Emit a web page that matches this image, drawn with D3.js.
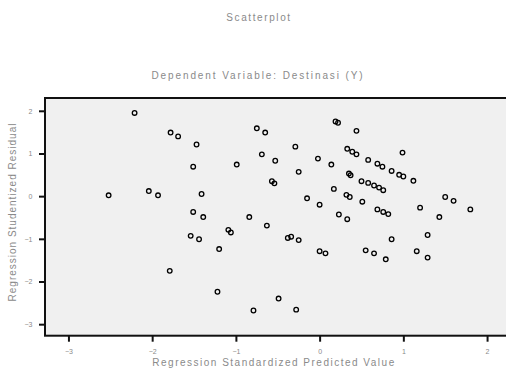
<!DOCTYPE html>
<html>
<head>
<meta charset="utf-8">
<script src="https://cdn.jsdelivr.net/npm/d3@7/dist/d3.min.js"></script>
<style>
  html, body { margin: 0; padding: 0; background: #fff; }
  svg text { font-family: "Liberation Sans", Arial, sans-serif; fill: #8a8a8a; }
</style>
</head>
<body>
<div id="chart"></div>
<script>
// regression standardized predicted value (x) and studentized residual (y)
const predicted = [
  -2.21, -1.78, -1.69, -1.47, -1.51, -0.99, -2.52, -2.04, -1.93, -1.41,
  -1.51, -1.39, -0.84, -1.09, -1.06, -1.54, -1.44, -1.20, -1.79, -1.22,
  -0.79, -0.75, -0.65, -0.69, -0.53, -0.29, -0.25, -0.57, -0.54, -0.02,
  0.14, 0.19, 0.22, 0.44, 0.33, 0.39, 0.44, 0.58, 0.69, 0.75,
  0.86, 0.95, 1.00, 1.12, 0.99, 0.35, 0.37, 0.50, 0.58, 0.65,
  0.71, 0.76, 0.17, 0.32, 0.36, 0.51, -0.15, 0.00, 0.69, 0.76,
  0.82, 1.20, 1.43, 1.50, 1.60, 1.80, 0.23, 0.33, -0.63, -0.38,
  -0.34, -0.25, 0.00, 0.07, 0.55, 0.65, 0.79, 0.86, 1.16, 1.29,
  1.29, -0.49, -0.28
];
const residual = [
  1.95, 1.49, 1.40, 1.21, 0.69, 0.74, 0.02, 0.12, 0.02, 0.05,
  -0.37, -0.49, -0.49, -0.79, -0.85, -0.93, -1.01, -1.24, -1.75, -2.24,
  -2.68, 1.59, 1.49, 0.98, 0.83, 1.16, 0.57, 0.35, 0.30, 0.88,
  0.74, 1.75, 1.72, 1.53, 1.11, 1.04, 0.98, 0.85, 0.76, 0.69,
  0.59, 0.50, 0.46, 0.36, 1.02, 0.53, 0.49, 0.35, 0.31, 0.25,
  0.20, 0.14, 0.17, 0.03, -0.02, -0.13, -0.05, -0.20, -0.31, -0.37,
  -0.42, -0.27, -0.49, -0.02, -0.11, -0.31, -0.43, -0.54, -0.69, -0.98,
  -0.95, -1.03, -1.29, -1.34, -1.27, -1.34, -1.48, -1.01, -1.29, -0.91,
  -1.44, -2.40, -2.66
];
const xTicks = [-3, -2, -1, 0, 1, 2];
const yTicks = [-3, -2, -1, 0, 1, 2];

const width = 506, height = 369;

const svg = d3.select("#chart")
  .append("svg")
  .attr("width", width)
  .attr("height", height);

const x = d3.scaleLinear().domain([-3.28, 2.25]).range([45, 508]);
const y = d3.scaleLinear().domain([-3.27, 2.3]).range([335.7, 98]);

// titles
svg.append("text")
  .attr("x", 259).attr("y", 21)
  .attr("text-anchor", "middle")
  .attr("font-size", "10px")
  .attr("letter-spacing", "1.6px")
  .text("Scatterplot");

svg.append("text")
  .attr("x", 258).attr("y", 79)
  .attr("text-anchor", "middle")
  .attr("font-size", "10px")
  .attr("letter-spacing", "1.9px")
  .text("Dependent Variable: Destinasi (Y)");

// plot frame
svg.append("rect")
  .attr("x", x.range()[0]).attr("y", y.range()[1])
  .attr("width", x.range()[1] - x.range()[0])
  .attr("height", y.range()[0] - y.range()[1])
  .attr("fill", "#f0f0f0")
  .attr("stroke", "#111")
  .attr("stroke-width", 2);

// axes
const xAxis = svg.append("g")
  .attr("transform", `translate(0,${y.range()[0]})`)
  .call(d3.axisBottom(x).tickValues(xTicks).tickSize(6).tickFormat(d3.format("d")));
xAxis.select(".domain").remove();
xAxis.selectAll("line").attr("stroke", "#111").attr("stroke-width", 2);
xAxis.selectAll("text").attr("fill", "#8a8a8a").attr("font-size", "7px").attr("dy", "1.4em");

const yAxis = svg.append("g")
  .attr("transform", `translate(${x.range()[0]},0)`)
  .call(d3.axisLeft(y).tickValues(yTicks).tickSize(6).tickFormat(d3.format("d")));
yAxis.select(".domain").remove();
yAxis.selectAll("line").attr("stroke", "#111").attr("stroke-width", 2);
yAxis.selectAll("text").attr("fill", "#8a8a8a").attr("font-size", "7px").attr("dx", "-0.5em");

// axis titles
svg.append("text")
  .attr("x", 274).attr("y", 366)
  .attr("text-anchor", "middle")
  .attr("font-size", "10px")
  .attr("letter-spacing", "1.5px")
  .text("Regression Standardized Predicted Value");

svg.append("text")
  .attr("transform", "translate(16,212) rotate(-90)")
  .attr("text-anchor", "middle")
  .attr("font-size", "10px")
  .attr("letter-spacing", "1px")
  .text("Regression Studentized Residual");

// points
svg.append("g")
  .selectAll("circle")
  .data(predicted.map((p, i) => [p, residual[i]]))
  .enter()
  .append("circle")
  .attr("cx", d => x(d[0]))
  .attr("cy", d => y(d[1]))
  .attr("r", 2.3)
  .attr("fill", "none")
  .attr("stroke", "#000")
  .attr("stroke-width", 1.3);
</script>
</body>
</html>
